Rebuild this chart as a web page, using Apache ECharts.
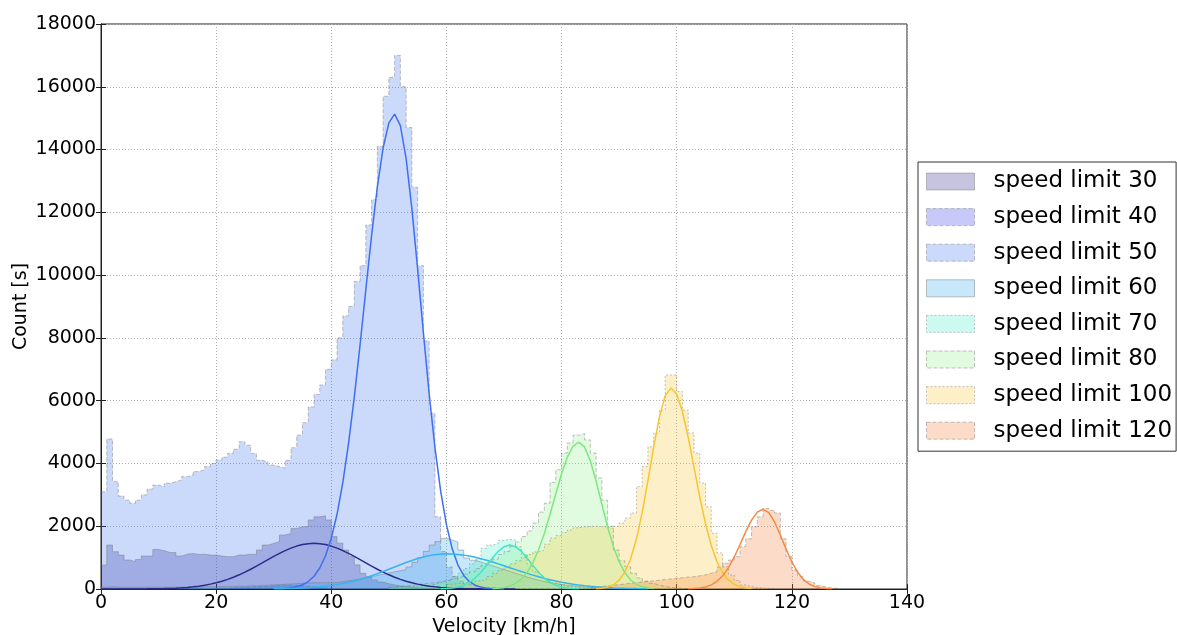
<!DOCTYPE html>
<html><head><meta charset="utf-8">
<script src="https://cdn.jsdelivr.net/npm/echarts@6/dist/echarts.min.js"></script>
<style>html,body{margin:0;padding:0;background:#fff}#c{width:1177px;height:635px}</style>
</head><body><div id="c"></div>
<script>
// ---- data (1 km/h bins; each list starts at the given velocity) ----
const seriesNames = ['speed limit 30','speed limit 40','speed limit 50','speed limit 60','speed limit 70','speed limit 80','speed limit 100','speed limit 120'];

const hist30Start = 0;
const hist30 = [765,1400,1190,1080,925,870,940,1050,1050,1260,
 1220,1160,1160,1050,1110,1130,1100,1110,1080,1080,
 1050,1030,1030,1080,1080,1110,1100,1240,1400,1450,
 1510,1720,1770,1930,1980,1990,2200,2300,2330,2200,
 1670,1460,1240,1030,770,500,390,290,220,170,
 130,100,80,60,40,30,20,10];
const hist40Start = 20;
const hist40 = [30,35,40,50,55,60,70,80,90,100,110,120,120,110,100,90,70,50,40,30,20,10];
const hist50Start = 0;
const hist50 = [3100,4780,3420,2960,2830,2730,2830,3000,3180,3310,
 3260,3370,3420,3470,3580,3630,3740,3800,3900,4000,
 4110,4200,4320,4450,4690,4580,4320,4100,4050,3950,
 3900,3850,4100,4500,4900,5300,5800,6200,6500,7000,
 7300,8000,8700,9000,9800,10300,11600,12400,14100,15700,
 16300,17000,16000,14700,12800,10300,7900,5600,2300,1200,
 700,400,250,150,100,70,50,40,30,25,
 20,15,10,10,8,5,5,3,2,1];
const hist60Start = 0;
const hist60 = [60,70,60,60,60,60,60,60,60,60,
 60,60,60,60,60,60,60,70,70,70,
 80,80,80,90,90,100,100,110,120,130,
 140,150,160,170,180,190,200,200,200,200,
 200,230,260,290,320,350,390,430,470,510,
 550,580,620,700,850,1000,1200,1400,1510,1615,
 1560,1500,1240,985,920,860,800,740,680,620,
 560,500,440,380,330,280,240,200,170,140,
 120,100,80,65,50,40,30,25,20,15,
 10,8,5];
const hist70Start = 50;
const hist70 = [50,60,70,80,90,100,120,150,200,250,
 300,400,500,650,800,950,1300,1400,1450,1550,
 1580,1560,1350,1100,800,550,400,300,200,150,
 100,70,50,30,20,10];
const hist80Start = 50;
const hist80 = [60,80,100,120,140,160,180,200,230,260,
 300,350,400,470,550,650,750,850,950,1100,
 1200,1350,1500,1670,1850,2100,2450,2730,3400,3800,
 4330,4650,4900,4950,4750,4330,3540,2830,2000,1240,
 900,710,500,350,250,180,120,80,50,30,
 20,10];
const hist100Start = 60;
const hist100 = [150,170,190,210,240,270,300,400,500,600,
 700,800,900,1000,1100,1180,1240,1430,1620,1700,
 1800,1880,1950,1985,1990,2000,1990,1980,1930,2000,
 2100,2260,2420,3260,3900,4530,4970,5700,6820,6820,
 6290,5700,4970,4330,3380,2620,1780,1150,710,450,
 270,130,80,50,30,20,10];
const hist120Start = 85;
const hist120 = [60,80,100,120,140,160,180,200,220,240,
 260,280,300,320,340,360,380,390,420,450,
 500,550,700,820,920,1030,1350,1600,1985,2300,
 2570,2500,2420,1600,1030,600,390,250,190,110,
 60,30,20];

// fitted curves, sampled every 1 km/h
const fit30Start = 0;
const fit30 = [0,0,1,1,1,2,2,3,4,6,9,13,19,27,37,51,69,91,120,155,197,248,307,375,452,537,630,728,831,935,
 1037,1134,1224,1303,1367,1415,1445,1455,1445,1415,1367,1303,1224,1134,1037,935,831,728,630,537,
 452,375,307,248,197,155,120,91,69,51,37,27,19,13,9,6,4,3,2,1,1,1,0];
const fit50Start = 31;
const fit50 = [9,19,38,73,134,238,405,670,1060,1620,2380,3390,4640,6120,7780,9540,11260,12810,14050,14850,
 15130,14760,13710,12110,10190,8160,6220,4510,3120,2050,1280,761,431,233,120,59,27,12,5,0];
const fit60Start = 30;
const fit60 = [6,9,12,17,23,30,40,53,68,87,111,139,172,211,255,305,361,422,487,557,
 628,701,774,844,910,969,1021,1063,1094,1113,1120,1115,1102,1079,1048,1010,965,915,860,801,
 741,679,618,557,498,442,389,339,294,252,214,181,152,126,104,85,69,55,44,35,27,21,16,12,9,7];
const fit70Start = 59;
const fit70 = [5,13,30,61,118,211,348,533,755,989,1200,1347,1400,1347,1200,989,755,533,348,211,118,61,30,13,5];
const fit80Start = 68;
const fit80 = [11,24,49,95,177,314,525,831,1244,1768,2381,3036,3670,4200,4555,4680,
 4521,4077,3432,2697,1976,1352,863,515,286,149,72,33,14];
const fit100Start = 86;
const fit100 = [10,25,60,135,280,540,964,1591,2435,3450,4523,5484,6157,6400,
 6203,5648,4831,3882,2930,2078,1384,866,509,281,146,71,33,14];
const fit120Start = 102;
const fit120 = [5,13,31,66,132,246,425,683,1020,1417,1829,2195,2449,2540,
 2432,2136,1721,1271,861,535,305,159,76,34,13,5];

// ---- styling ----
const fills = ['rgba(25,25,130,0.25)','rgba(40,40,230,0.25)','rgba(47,103,239,0.25)','rgba(27,163,235,0.25)',
  'rgba(55,235,195,0.25)','rgba(131,239,131,0.25)','rgba(247,195,35,0.25)','rgba(243,115,35,0.25)'];
const edgeTypes = ['solid','dashed','dashed','solid',[2,2],'dashed',[2,2],'dashed'];
const edgeColor = 'rgba(120,120,120,0.45)';
const curveColors = ['#2b2b8a',null,'#3f6ff0','#33b5f0','#3ee8c0','#7ee87e','#f7c531','#f48a43'];

const hists = [[hist30Start,hist30],[hist40Start,hist40],[hist50Start,hist50],[hist60Start,hist60],
  [hist70Start,hist70],[hist80Start,hist80],[hist100Start,hist100],[hist120Start,hist120]];
const fits = [[fit30Start,fit30],null,[fit50Start,fit50],[fit60Start,fit60],[fit70Start,fit70],
  [fit80Start,fit80],[fit100Start,fit100],[fit120Start,fit120]];

const series = [];
hists.forEach((h, i) => {
  const pts = h[1].map((c, k) => [h[0] + k, c]);
  pts.push([h[0] + h[1].length, 0]);
  series.push({
    type: 'line', name: seriesNames[i], step: 'end', data: pts, symbol: 'none', silent: true,
    lineStyle: {color: edgeColor, width: 1, type: edgeTypes[i]},
    itemStyle: {color: fills[i]},
    areaStyle: {color: fills[i], opacity: 1},
    z: 2
  });
});
fits.forEach((f, i) => {
  if (!f) return;
  series.push({
    type: 'line', name: seriesNames[i] + ' fit', data: f[1].map((c, k) => [f[0] + k, c]),
    symbol: 'none', silent: true, lineStyle: {color: curveColors[i], width: 1.5}, z: 4
  });
});

const font = 'DejaVu Sans';
const plain = v => String(v);
const chart = echarts.init(document.getElementById('c'), null, {renderer: 'canvas'});
chart.setOption({
  animation: false,
  backgroundColor: '#fff',
  grid: {left: 101, right: 270, top: 24, bottom: 46, containLabel: false, outerBoundsMode: 'none',
    show: true, borderColor: '#222', borderWidth: 1, backgroundColor: 'transparent'},
  legend: {
    orient: 'vertical', left: 918, top: 162,
    padding: [8, 4, 9, 8],
    itemWidth: 48, itemHeight: 17, itemGap: 12.6,
    borderColor: '#333', borderWidth: 1, backgroundColor: '#fff',
    textStyle: {fontSize: 23, color: '#000', fontFamily: font, padding: [0, 0, 0, 14]},
    selectedMode: false,
    data: seriesNames.map((n, i) => ({
      name: n, icon: 'rect',
      itemStyle: {color: fills[i], borderColor: edgeColor, borderWidth: 1, borderType: edgeTypes[i]}
    }))
  },
  xAxis: [{
    type: 'value', min: 0, max: 140, interval: 20,
    name: 'Velocity [km/h]', nameLocation: 'middle', nameGap: 29, nameMoveOverlap: false,
    nameTextStyle: {fontSize: 19, color: '#000', fontFamily: font},
    axisLine: {show: true, onZero: false, lineStyle: {color: '#222'}},
    axisTick: {show: true, inside: true, length: 5, lineStyle: {color: '#222'}},
    axisLabel: {fontSize: 19, color: '#000', fontFamily: font, margin: 5, formatter: plain},
    splitLine: {show: true, lineStyle: {color: '#b0b0b0', type: [1, 2], width: 1}}
  }, {
    type: 'value', min: 0, max: 140, interval: 20, position: 'top',
    axisLine: {show: true, lineStyle: {color: '#222'}},
    axisTick: {show: true, inside: true, length: 5, lineStyle: {color: '#222'}},
    axisLabel: {show: false}, splitLine: {show: false}
  }],
  yAxis: [{
    type: 'value', min: 0, max: 18000, interval: 2000,
    name: 'Count [s]', nameLocation: 'middle', nameGap: 70, nameRotate: 90, nameMoveOverlap: false,
    nameTextStyle: {fontSize: 19, color: '#000', fontFamily: font},
    axisLine: {show: true, onZero: false, lineStyle: {color: '#222'}},
    axisTick: {show: true, inside: true, length: 5, lineStyle: {color: '#222'}},
    axisLabel: {fontSize: 19, color: '#000', fontFamily: font, margin: 5, formatter: plain},
    splitLine: {show: true, lineStyle: {color: '#b0b0b0', type: [1, 2], width: 1}}
  }, {
    type: 'value', min: 0, max: 18000, interval: 2000, position: 'right',
    axisLine: {show: true, lineStyle: {color: '#222'}},
    axisTick: {show: true, inside: true, length: 5, lineStyle: {color: '#222'}},
    axisLabel: {show: false}, splitLine: {show: false}
  }],
  series: series
});
</script></body></html>
